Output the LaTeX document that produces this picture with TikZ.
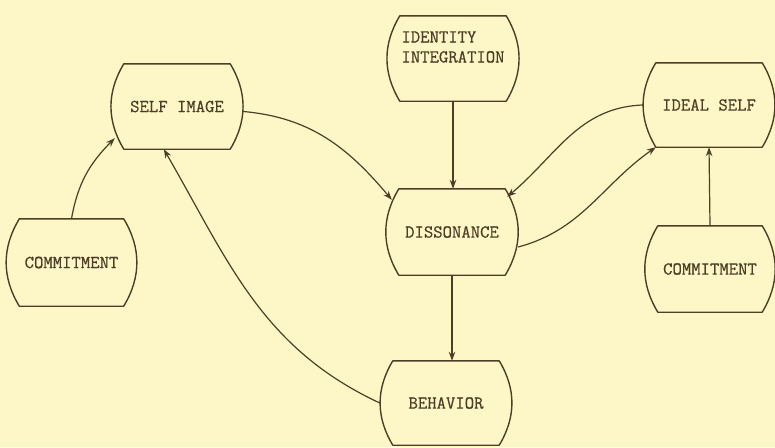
\documentclass[tikz,border=0pt]{standalone}
\usepackage{fontspec}
\usetikzlibrary{arrows.meta}
\newfontfamily\typefont{Latin Modern Mono}[FakeBold=0.6]
\definecolor{paper}{RGB}{253,246,199}
\definecolor{ink}{RGB}{78,62,38}

\begin{document}
\begin{tikzpicture}[x=1pt,y=1pt,>={Stealth[length=9pt,width=6.5pt]},
  boxnode/.style={minimum width=132pt,minimum height=85pt,inner sep=0pt,
    text=ink,font=\fontsize{18.2}{20}\selectfont\typefont},
  boxline/.style={draw=ink,line width=1.4pt,line join=round},
  link/.style={draw=ink,line width=1.2pt,->}]
  % sheet
  \fill[paper] (0,0) rectangle (775,-447);
  \useasboundingbox (0,0) rectangle (775,-447);

  % Boxes (centres)
  \node[boxnode] (selfimg) at (177,-106.5) {SELF IMAGE};
  \node[boxnode,align=left,text height=12pt,text depth=4pt] (ident) at (453,-58.5) {IDENTITY\\INTEGRATION};
  \node[boxnode,minimum height=86pt] (dis) at (452,-232) {DISSONANCE};
  \node[boxnode,minimum height=84pt] (ideal) at (709,-105) {IDEAL SELF};
  \node[boxnode,minimum width=130pt,minimum height=87pt] (commitL) at (71.5,-262.5) {COMMITMENT};
  \node[boxnode,minimum width=130pt,minimum height=86pt] (commitR) at (710,-269) {COMMITMENT};
  \node[boxnode,minimum height=84pt] (beh) at (446,-403) {BEHAVIOR};

  % Barrel outlines: flat top and bottom, bowed sides
  \foreach \n in {selfimg,ident,dis,ideal,commitL,commitR,beh} {
    \draw[boxline] ([xshift=13pt]\n.north west) -- ([xshift=-13pt]\n.north east)
      to[bend left=31] ([xshift=-13pt]\n.south east)
      -- ([xshift=13pt]\n.south west)
      to[bend left=31] ([xshift=13pt]\n.north west) -- cycle;
  }

  % Arrows
  \draw[link] (commitL.north) to[out=80,in=-135] ([shift={(4pt,11pt)}]selfimg.south west);
  \draw[link] (beh.west) to[out=155,in=-60] ([xshift=53pt]selfimg.south west);
  \draw[link] ([yshift=-5pt]selfimg.east) to[out=-5,in=130] ([shift={(6pt,-11pt)}]dis.north west);
  \draw[link] (ident.south) -- (ident.south |- dis.north);
  \draw[link] (ideal.west) to[out=182,in=40] ([shift={(-11pt,-8pt)}]dis.north east);
  \draw[link] ([yshift=-15pt]dis.east) to[out=15,in=-145] ([xshift=13pt]ideal.south west);
  \draw[link] (commitR.north) -- (ideal.south);
  \draw[link] (dis.south) -- (dis.south |- beh.north);

\end{tikzpicture}
\end{document}
